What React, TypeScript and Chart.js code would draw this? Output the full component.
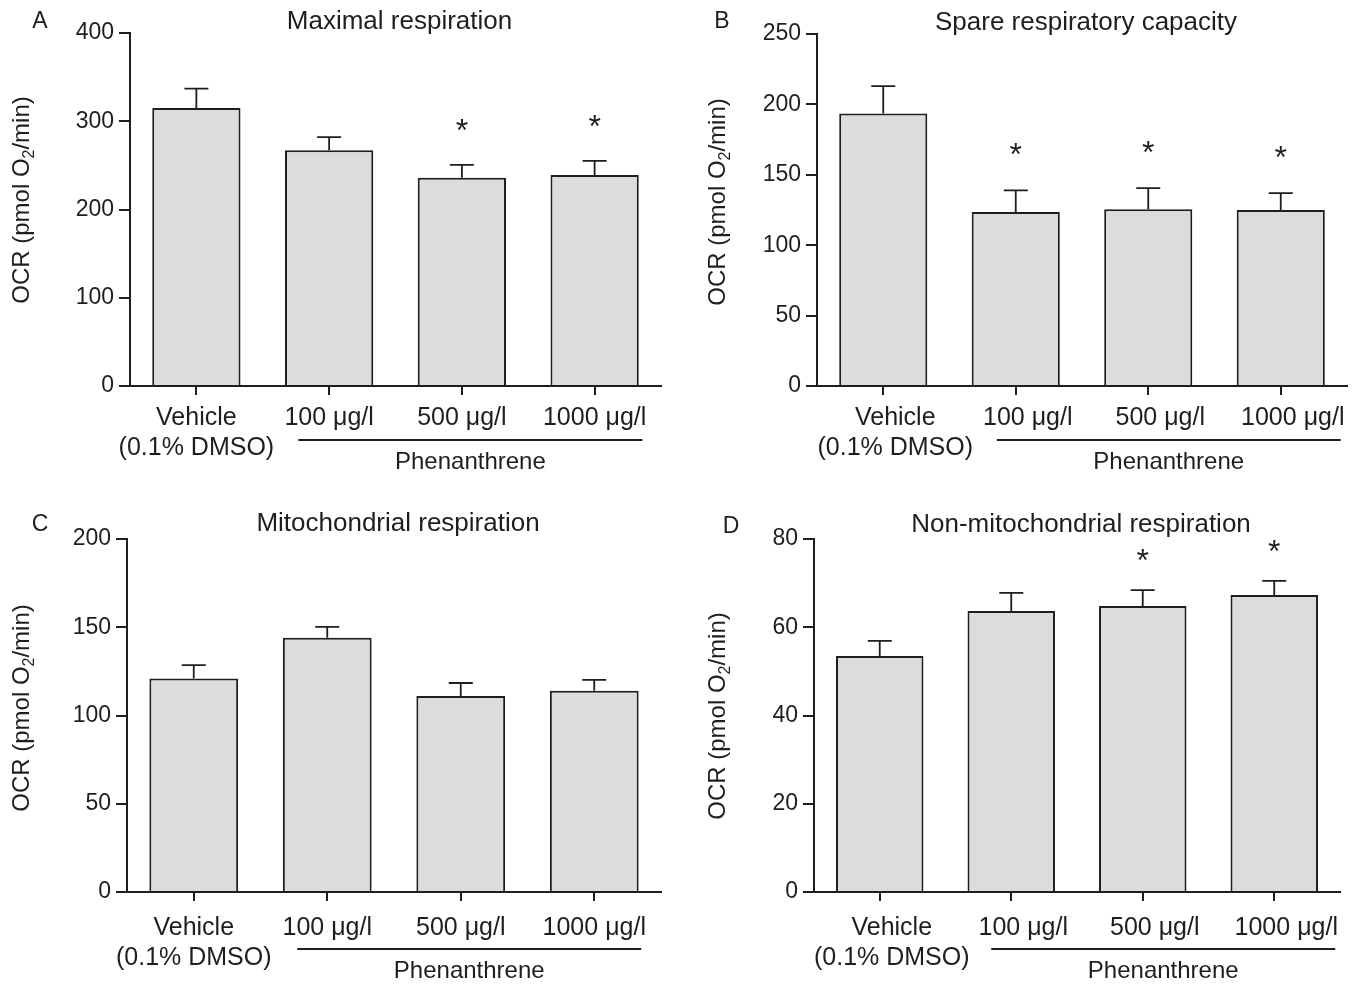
import React, { useEffect, useRef } from 'react';
import { Chart, registerables } from 'chart.js';

Chart.register(...registerables);

// ---------- data ----------
const categories: (string | string[])[] = [['Vehicle', '(0.1% DMSO)'], '100 μg/l', '500 μg/l', '1000 μg/l'];
const groupLabel = 'Phenanthrene';
const yAxisTitle = ['OCR (pmol O', '2', '/min)'];

const maximalMean = [315, 267, 236, 239];
const maximalErr = [22, 15, 14.5, 16];
const maximalSig = [false, false, true, true];

const spareMean = [193.5, 123.5, 125.5, 125];
const spareErr = [19.5, 15.5, 15, 12];
const spareSig = [false, true, true, true];

const mitoMean = [121, 144, 111, 114];
const mitoErr = [7.5, 6.2, 7.4, 6.2];
const mitoSig = [false, false, false, false];

const nonMitoMean = [53.5, 63.7, 64.8, 67.3];
const nonMitoErr = [3.4, 4.1, 3.6, 3.2];
const nonMitoSig = [false, false, true, true];

// ---------- style ----------
const FONT = "'Liberation Sans', Arial, Helvetica, sans-serif";
const INK = '#1e1e1e';
const FILL = '#dcdcdc';

type PanelCfg = {
  letter: string;
  title: string;
  mean: number[];
  err: number[];
  sig: boolean[];
  max: number;
  step: number;
  box: { x: number; y: number; w: number; h: number };
  area: { l: number; t: number; r: number; b: number };
  labelOffset: number;
  labelPad: number;
  bracketDy: number;
  starGap: number;
  titleY: number;
  letterPos: [number, number];
  yTitlePos: [number, number];
};

const panels: PanelCfg[] = [
  {
    letter: 'A', title: 'Maximal respiration', mean: maximalMean, err: maximalErr, sig: maximalSig,
    max: 400, step: 100,
    box: { x: 0, y: 0, w: 680, h: 490 }, area: { l: 130, t: 33, r: 661, b: 386 },
    labelOffset: 0, labelPad: 8, bracketDy: 0, starGap: 38, titleY: 22, letterPos: [40, 22], yTitlePos: [22, 200],
  },
  {
    letter: 'B', title: 'Spare respiratory capacity', mean: spareMean, err: spareErr, sig: spareSig,
    max: 250, step: 50,
    box: { x: 680, y: 0, w: 683, h: 490 }, area: { l: 137, t: 34, r: 667, b: 386 },
    labelOffset: 12, labelPad: 8, bracketDy: 0, starGap: 39, titleY: 23, letterPos: [42, 22], yTitlePos: [38, 202],
  },
  {
    letter: 'C', title: 'Mitochondrial respiration', mean: mitoMean, err: mitoErr, sig: mitoSig,
    max: 200, step: 50,
    box: { x: 0, y: 490, w: 680, h: 494 }, area: { l: 127, t: 49, r: 661, b: 402 },
    labelOffset: 0, labelPad: 12, bracketDy: 3, starGap: 36, titleY: 34, letterPos: [40, 35], yTitlePos: [22, 218],
  },
  {
    letter: 'D', title: 'Non-mitochondrial respiration', mean: nonMitoMean, err: nonMitoErr, sig: nonMitoSig,
    max: 80, step: 20,
    box: { x: 680, y: 490, w: 683, h: 494 }, area: { l: 134, t: 49, r: 660, b: 402 },
    labelOffset: 12, labelPad: 12, bracketDy: 3, starGap: 33, titleY: 35, letterPos: [51, 37], yTitlePos: [38, 226],
  },
];

function decorPlugin(cfg: PanelCfg) {
  return {
    id: 'decor' + cfg.letter,
    afterDatasetsDraw(chart: any) {
      const ctx: CanvasRenderingContext2D = chart.ctx;
      const ys = chart.scales.y;
      const meta = chart.getDatasetMeta(0);
      ctx.save();
      ctx.strokeStyle = INK;
      ctx.fillStyle = INK;
      ctx.lineWidth = 1.8;
      meta.data.forEach((bar: any, i: number) => {
        const x = bar.x;
        const yTop = bar.y;
        const yErr = ys.getPixelForValue(cfg.mean[i] + cfg.err[i]);
        ctx.beginPath();
        ctx.moveTo(x, yTop);
        ctx.lineTo(x, yErr);
        ctx.moveTo(x - 12, yErr);
        ctx.lineTo(x + 12, yErr);
        ctx.stroke();
        if (cfg.sig[i]) {
          ctx.font = `32px ${FONT}`;
          ctx.textAlign = 'center';
          ctx.textBaseline = 'alphabetic';
          ctx.fillText('*', x, yErr - cfg.starGap + 14);
        }
      });
      ctx.restore();
    },
    afterDraw(chart: any) {
      const ctx: CanvasRenderingContext2D = chart.ctx;
      const xs = chart.scales.x;
      const area = chart.chartArea;
      ctx.save();
      ctx.fillStyle = INK;
      ctx.strokeStyle = INK;

      // title
      ctx.font = `26px ${FONT}`;
      ctx.textAlign = 'center';
      ctx.textBaseline = 'middle';
      ctx.fillText(cfg.title, (area.left + area.right) / 2 + 4, cfg.titleY);

      // panel letter
      ctx.font = `23px ${FONT}`;
      ctx.fillText(cfg.letter, cfg.letterPos[0], cfg.letterPos[1]);

      // group bracket
      const c1 = xs.getPixelForValue(1);
      const c3 = xs.getPixelForValue(3);
      const mid = (c1 + c3) / 2 + cfg.labelOffset + 8.5;
      const half = 172;
      ctx.lineWidth = 2;
      ctx.beginPath();
      ctx.moveTo(mid - half, area.bottom + 54 + cfg.bracketDy);
      ctx.lineTo(mid + half, area.bottom + 54 + cfg.bracketDy);
      ctx.stroke();
      ctx.font = `24px ${FONT}`;
      ctx.fillText(groupLabel, mid, area.bottom + 76 + cfg.bracketDy);

      // y axis title with subscript
      ctx.translate(cfg.yTitlePos[0], cfg.yTitlePos[1]);
      ctx.rotate(-Math.PI / 2);
      const big = `24px ${FONT}`;
      const small = `16px ${FONT}`;
      ctx.font = big;
      const w1 = ctx.measureText(yAxisTitle[0]).width;
      const w3 = ctx.measureText(yAxisTitle[2]).width;
      ctx.font = small;
      const w2 = ctx.measureText(yAxisTitle[1]).width;
      const total = w1 + w2 + w3;
      let px = -total / 2;
      ctx.textAlign = 'left';
      ctx.textBaseline = 'middle';
      ctx.font = big;
      ctx.fillText(yAxisTitle[0], px, 0);
      px += w1;
      ctx.font = small;
      ctx.fillText(yAxisTitle[1], px, 8);
      px += w2;
      ctx.font = big;
      ctx.fillText(yAxisTitle[2], px, 0);
      ctx.restore();
    },
  };
}

function Panel({ cfg }: { cfg: PanelCfg }) {
  const ref = useRef<HTMLCanvasElement>(null);
  useEffect(() => {
    const chart = new Chart(ref.current as HTMLCanvasElement, {
      type: 'bar',
      data: {
        labels: categories as any,
        datasets: [
          {
            data: cfg.mean,
            backgroundColor: FILL,
            borderColor: INK,
            borderWidth: 2,
            barPercentage: 0.665,
            categoryPercentage: 1,
          },
        ],
      },
      options: {
        animation: false,
        responsive: false,
        maintainAspectRatio: false,
        devicePixelRatio: 1,
        layout: { padding: { left: 0, top: cfg.area.t, right: cfg.box.w - cfg.area.r, bottom: 0 } },
        plugins: { legend: { display: false }, tooltip: { enabled: false }, title: { display: false } },
        scales: {
          x: {
            grid: { display: true, drawOnChartArea: false, drawTicks: true, tickLength: 9, offset: false, color: INK, lineWidth: 2 },
            border: { display: true, color: INK, width: 2 },
            ticks: {
              color: INK,
              font: { size: 25, family: FONT },
              padding: cfg.labelPad,
              labelOffset: cfg.labelOffset,
              maxRotation: 0,
              autoSkip: false,
            },
            afterFit: (s: any) => {
              s.height = cfg.box.h - cfg.area.b;
            },
          },
          y: {
            min: 0,
            max: cfg.max,
            grid: { display: true, drawOnChartArea: false, drawTicks: true, tickLength: 11, color: INK, lineWidth: 2 },
            border: { display: true, color: INK, width: 2 },
            ticks: { stepSize: cfg.step, color: INK, font: { size: 23, family: FONT }, padding: 5 },
            afterFit: (s: any) => {
              s.width = cfg.area.l;
            },
          },
        },
      } as any,
      plugins: [decorPlugin(cfg)],
    });
    return () => chart.destroy();
  }, [cfg]);
  return (
    <canvas
      ref={ref}
      width={cfg.box.w}
      height={cfg.box.h}
      style={{ position: 'absolute', left: cfg.box.x, top: cfg.box.y, width: cfg.box.w, height: cfg.box.h }}
    />
  );
}

export default function App() {
  return (
    <div style={{ position: 'absolute', left: 0, top: 0, width: 1363, height: 984, background: '#ffffff' }}>
      {panels.map((p) => (
        <Panel key={p.letter} cfg={p} />
      ))}
    </div>
  );
}
